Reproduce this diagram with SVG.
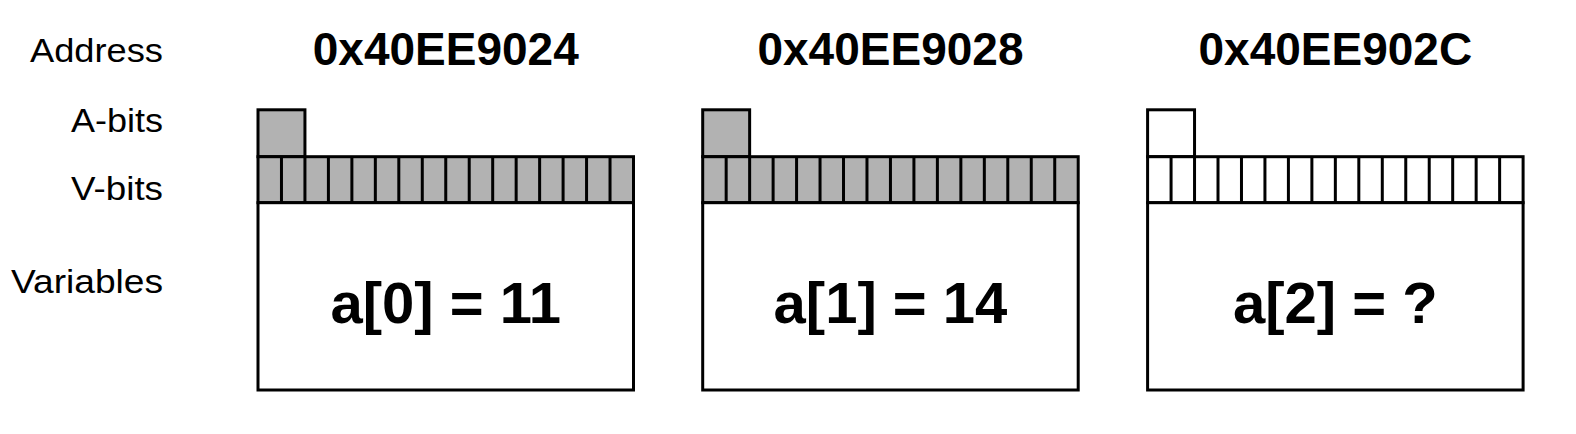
<svg xmlns="http://www.w3.org/2000/svg" width="1576" height="434" viewBox="0 0 1576 434">
<style>
  .lbl { font-family: "Liberation Sans", Arial, sans-serif; font-size: 33px; fill: #000; text-anchor: end; }
  .addr { font-family: "Liberation Sans", Arial, sans-serif; font-weight: bold; font-size: 46px; fill: #000; text-anchor: middle; }
  .var { font-family: "Liberation Sans", Arial, sans-serif; font-weight: bold; font-size: 58px; fill: #000; text-anchor: middle; }
  .on { fill: #b2b2b2; stroke: #000; stroke-width: 3; }
  .off { fill: #fff; stroke: #000; stroke-width: 3; }
  .div { stroke: #000; stroke-width: 3; }
</style>
<defs>
  <g id="vdiv">
    <path class="div" d="M23.47 156.7V202.7M46.94 156.7V202.7M70.41 156.7V202.7M93.88 156.7V202.7M117.34 156.7V202.7M140.81 156.7V202.7M164.28 156.7V202.7M187.75 156.7V202.7M211.22 156.7V202.7M234.69 156.7V202.7M258.16 156.7V202.7M281.63 156.7V202.7M305.09 156.7V202.7M328.56 156.7V202.7M352.03 156.7V202.7"/>
  </g>
</defs>
<rect width="1576" height="434" fill="#fff"/>
<g id="row-labels">
  <text class="lbl" x="163" y="62" textLength="133" lengthAdjust="spacingAndGlyphs">Address</text>
  <text class="lbl" x="163" y="132" textLength="92" lengthAdjust="spacingAndGlyphs">A-bits</text>
  <text class="lbl" x="163" y="200" textLength="92" lengthAdjust="spacingAndGlyphs">V-bits</text>
  <text class="lbl" x="163" y="293" textLength="152" lengthAdjust="spacingAndGlyphs">Variables</text>
</g>
<g id="word0" transform="translate(258,0)">
  <text class="addr" x="187.75" y="65">0x40EE9024</text>
  <rect class="on" x="0" y="109.8" width="46.94" height="46.9"/>
  <rect class="on" x="0" y="156.7" width="375.5" height="46"/>
  <use href="#vdiv"/>
  <rect class="off" x="0" y="202.7" width="375.5" height="187.3"/>
  <text class="var" x="187.75" y="323">a[0] = 11</text>
</g>
<g id="word1" transform="translate(702.7,0)">
  <text class="addr" x="187.75" y="65">0x40EE9028</text>
  <rect class="on" x="0" y="109.8" width="46.94" height="46.9"/>
  <rect class="on" x="0" y="156.7" width="375.5" height="46"/>
  <use href="#vdiv"/>
  <rect class="off" x="0" y="202.7" width="375.5" height="187.3"/>
  <text class="var" x="187.75" y="323">a[1] = 14</text>
</g>
<g id="word2" transform="translate(1147.6,0)">
  <text class="addr" x="187.75" y="65">0x40EE902C</text>
  <rect class="off" x="0" y="109.8" width="46.94" height="46.9"/>
  <rect class="off" x="0" y="156.7" width="375.5" height="46"/>
  <use href="#vdiv"/>
  <rect class="off" x="0" y="202.7" width="375.5" height="187.3"/>
  <text class="var" x="187.75" y="323">a[2] = ?</text>
</g>
<g id="connectors"/>
</svg>
